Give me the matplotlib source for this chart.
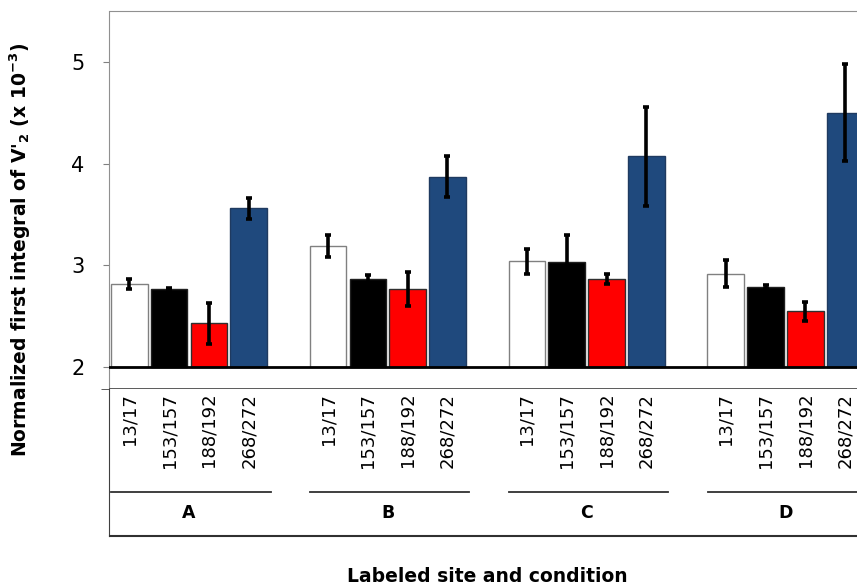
import numpy as np
import matplotlib.pyplot as plt

groups = ['A', 'B', 'C', 'D']
conditions = ['13/17', '153/157', '188/192', '268/272']
colors = ['white', 'black', '#ff0000', '#1f497d']
edges = ['#808080', '#202020', '#303030', '#1f3a60']

# rows = groups A-D, columns = conditions
values = np.array([
    [2.82, 2.77, 2.43, 3.56],
    [3.19, 2.87, 2.77, 3.87],
    [3.04, 3.03, 2.87, 4.07],
    [2.92, 2.79, 2.55, 4.50],
])
errors = np.array([
    [0.05, 0.005, 0.20, 0.105],
    [0.11, 0.04, 0.17, 0.20],
    [0.12, 0.27, 0.05, 0.485],
    [0.13, 0.02, 0.095, 0.475],
])

base = 2.0
fig = plt.figure(figsize=(8.57, 5.86), dpi=100)
W, H = 857.0, 586.0
left = 109.5 / W
right_px = 109.5 + 19 * 39.76
ax = fig.add_axes([left, 1 - 389 / H, (right_px - 109.5) / W, (389 - 11) / H])
ax2 = fig.add_axes([left, 1 - 536 / H, (right_px - 109.5) / W, (536 - 389) / H], sharex=ax)

for g in range(len(groups)):
    for i in range(len(conditions)):
        x = g * 5 + i
        ax.bar(x, values[g, i] - base, bottom=base, width=0.92, color=colors[i],
               edgecolor=edges[i], linewidth=1.0, zorder=2)
        ax.errorbar(x, values[g, i], yerr=errors[g, i], fmt='none', ecolor='black',
                    elinewidth=2.6, capsize=2.5, capthick=2.6, zorder=3)

ax.set_xlim(-0.5, 18.5)
ax.set_ylim(1.787, 5.497)
ax.axhline(base, color='black', lw=2, zorder=4)
ax.set_yticks([2, 3, 4, 5])
ax.set_yticklabels(['2', '3', '4', '5'], fontsize=15)
ax.set_yticks([1.787], minor=True)
ax.tick_params(axis='y', which='major', length=4, color='#808080', pad=14)
ax.tick_params(axis='y', which='minor', length=6, color='#404040')
ax.tick_params(axis='x', bottom=False, labelbottom=False)
ax.spines['right'].set_visible(False)
for s in ['top', 'left']:
    ax.spines[s].set_color('#909090')
ax.spines['bottom'].set_color('#404040')
ax.spines['bottom'].set_linewidth(1.2)

ax2.set_ylim(0, 1)
ax2.set_xticks([])
ax2.set_yticks([])
ax2.spines['top'].set_visible(False)
ax2.spines['right'].set_visible(False)
ax2.spines['left'].set_color('#404040')
ax2.spines['bottom'].set_color('#303030')
ax2.spines['bottom'].set_linewidth(1.5)

for g in range(len(groups)):
    for i in range(len(conditions)):
        ax2.text(g * 5 + i, 0.975, conditions[i], rotation=90, ha='center', va='top',
                 fontsize=13)
    ax2.plot([g * 5 - 0.45, g * 5 + 3.55], [0.30, 0.30], color='#303030', lw=1.3)
    ax2.text(g * 5 + 1.5, 0.155, groups[g], ha='center', va='center',
             fontsize=12.5, fontweight='bold')

fig.text(20 / W, 1 - 250 / H,
         r"Normalized first integral of V'$_\mathbf{2}$ (x 10$^{\mathbf{-3}}$)",
         rotation=90, ha='center', va='center', fontsize=13.5, fontweight='bold')
fig.text(487 / W, 1 - 576 / H, 'Labeled site and condition', ha='center', va='center',
         fontsize=13.5, fontweight='bold')

fig.savefig('out.png', dpi=100)
